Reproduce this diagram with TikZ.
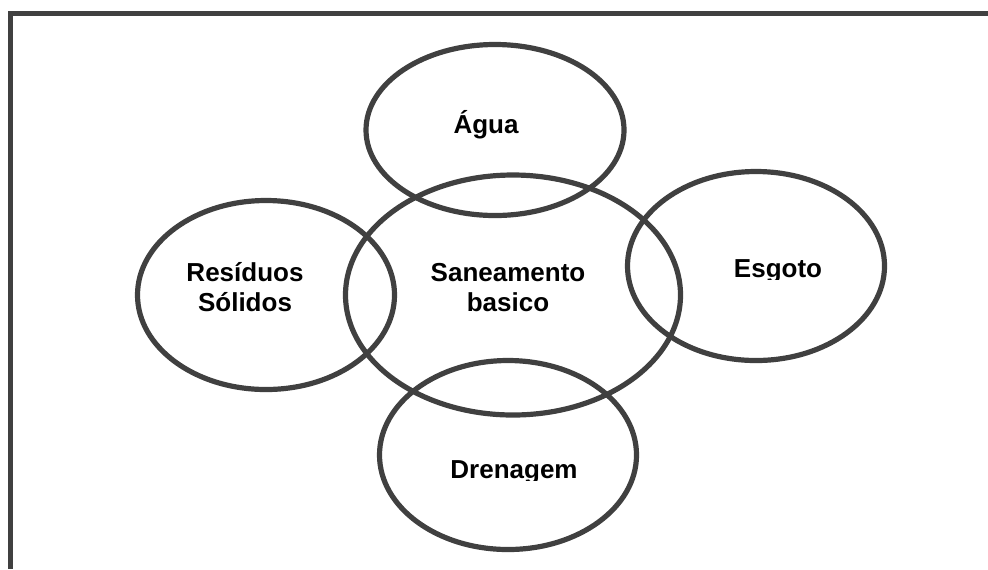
\documentclass[tikz,border=0pt]{standalone}
\usepackage{fontspec}
\setmainfont{Liberation Sans}
\usetikzlibrary{shapes.geometric,positioning,calc}

\definecolor{ringgray}{HTML}{404040}

\begin{document}
\begin{tikzpicture}[
  x=0.5pt, y=-0.5pt,
  font=\fontsize{13}{15}\selectfont\bfseries,
  ring/.style={ellipse, draw=ringgray, line width=2.6pt, inner sep=0pt},
  smallring/.style={ring, minimum width=128.5pt, minimum height=94.5pt},
  lbl/.style={align=center, inner sep=0pt, text=black},
  frame/.style={draw=ringgray, line width=2.75pt}
]
\useasboundingbox (0,0) rectangle (988,569);

% Frame (top and left only)
\draw[frame] (8,13.5) -- (988,13.5);
\draw[frame] (10.5,11) -- (10.5,569);

% Rings
\node[ring, minimum width=129pt, minimum height=85.5pt] (agua) at (495,130) {};
\node[ring, minimum width=167.5pt, minimum height=120pt] (saneamento) at (513,295) {};
\node[smallring] (residuos) at (266,295) {};
\node[smallring] (esgoto) at (756,266) {};
\node[smallring] (drenagem) at (508,455) {};

% Labels
\node[lbl, anchor=base] (aguaText) at ($(agua.center)+(-9,3)$) {Água};
\node[lbl] (saneamentoText) at ($(saneamento.center)+(-5,-7.5)$) {Saneamento\\basico};
\node[lbl] (residuosText) at ($(residuos.center)+(-21,-7.5)$) {Resíduos\\Sólidos};

% Labels cut off at the baseline
\begin{scope}
  \clip ($(esgoto.center)+(-60,-30)$) rectangle ($(esgoto.center)+(80,13)$);
  \node[lbl, anchor=base] (esgotoText) at ($(esgoto.center)+(22,11)$) {Esgoto};
\end{scope}
\begin{scope}
  \clip ($(drenagem.center)+(-80,-20)$) rectangle ($(drenagem.center)+(80,25)$);
  \node[lbl, anchor=base] (drenagemText) at ($(drenagem.center)+(6,23)$) {Drenagem};
\end{scope}

\end{tikzpicture}
\end{document}
